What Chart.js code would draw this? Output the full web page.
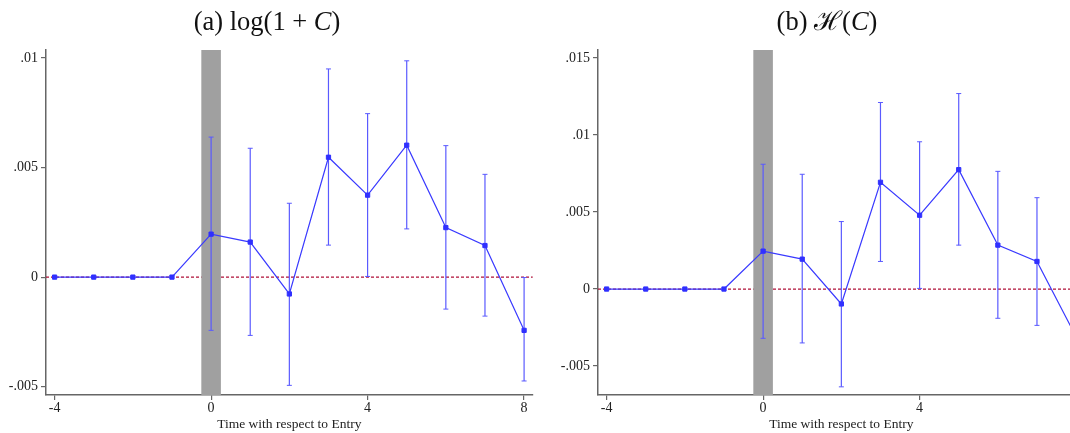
<!DOCTYPE html>
<html>
<head>
<meta charset="utf-8">
<script src="https://cdn.jsdelivr.net/npm/chart.js@4.4.1/dist/chart.umd.min.js"></script>
<style>
  html, body { margin: 0; padding: 0; background: #fff; overflow: hidden; }
  #wrap { position: relative; width: 1070px; height: 433px; overflow: hidden; }
  .panel { position: absolute; top: 0; width: 552px; height: 433px; }
</style>
</head>
<body>
<div id="wrap">
  <div class="panel" style="left:0"><canvas id="chartA" width="552" height="433"></canvas></div>
  <div class="panel" style="left:552px"><canvas id="chartB" width="552" height="433"></canvas></div>
</div>
<script>
// event time
const times = [-4, -3, -2, -1, 0, 1, 2, 3, 4, 5, 6, 7, 8];

// panel (a) log(1 + C)
const coefA   = [0, 0, 0, 0, 0.00196, 0.0016, -0.00077, 0.00547, 0.00374, 0.00602, 0.00226, 0.00144, -0.00243];
const ciLowA  = [null, null, null, null, -0.00243, -0.00266, -0.00494, 0.00146, 0.00003, 0.0022, -0.00146, -0.00178, -0.00474];
const ciHighA = [null, null, null, null, 0.00639, 0.00588, 0.00337, 0.0095, 0.00746, 0.00987, 0.006, 0.00469, -0.00002];

// panel (b) H(C)
const coefB   = [0, 0, 0, 0, 0.00246, 0.00194, -0.00097, 0.00693, 0.00479, 0.00775, 0.00285, 0.00179, -0.0031];
const ciLowB  = [null, null, null, null, -0.0032, -0.0035, -0.00635, 0.00179, 0.00004, 0.00285, -0.0019, -0.00236, -0.0079];
const ciHighB = [null, null, null, null, 0.0081, 0.00745, 0.00438, 0.01211, 0.00956, 0.01269, 0.00764, 0.00593, 0.0017];

// axes
const xTicks = [-4, 0, 4, 8];
const xRange = [-4.22, 8.22];
const yTicksA = [-0.005, 0, 0.005, 0.01];
const yLabelsA = ['-.005', '0', '.005', '.01'];
const yRangeA = [-0.00538, 0.010364];
const yTicksB = [-0.005, 0, 0.005, 0.01, 0.015];
const yLabelsB = ['-.005', '0', '.005', '.01', '.015'];
const yRangeB = [-0.00688, 0.015518];

const shadeSpan = [-0.25, 0.25];
const refLine = 0;
const xTitle = 'Time with respect to Entry';
const titleA = [['(a) log(1 + ', 'normal'], ['C', 'italic'], [')', 'normal']];
const titleB = [['(b) ', 'normal'], ['\u210B', 'normal'], ['(', 'normal'], ['C', 'italic'], [')', 'normal']];

const SERIF = "'Liberation Serif', 'Times New Roman', serif";
const AXIS = '#666';

// shaded entry period and zero line, under the data
const refPlugin = {
  id: 'refs',
  beforeDatasetsDraw(chart) {
    const { ctx, chartArea: a, scales: { x, y } } = chart;
    ctx.save();
    const y0 = y.getPixelForValue(refLine);
    ctx.strokeStyle = '#b01038';
    ctx.lineWidth = 1.2;
    ctx.setLineDash([3, 2]);
    ctx.beginPath();
    ctx.moveTo(a.left, y0);
    ctx.lineTo(a.right, y0);
    ctx.stroke();
    const x0 = x.getPixelForValue(shadeSpan[0]);
    const x1 = x.getPixelForValue(shadeSpan[1]);
    ctx.fillStyle = '#a0a0a0';
    ctx.fillRect(x0, a.top, x1 - x0, a.bottom - a.top);
    ctx.restore();
  }
};

// title with mixed upright / italic pieces
const titlePlugin = {
  id: 'mixTitle',
  afterDraw(chart, args, opts) {
    const ctx = chart.ctx;
    ctx.save();
    ctx.fillStyle = '#111';
    ctx.textBaseline = 'alphabetic';
    const font = style => style + ' 26.5px ' + SERIF;
    let total = 0;
    opts.parts.forEach(p => { ctx.font = font(p[1]); total += ctx.measureText(p[0]).width; });
    let xPos = opts.center - total / 2;
    opts.parts.forEach(p => {
      ctx.font = font(p[1]);
      ctx.fillText(p[0], xPos, 29.5);
      xPos += ctx.measureText(p[0]).width;
    });
    ctx.restore();
  }
};

function makeChart(id, coef, lo, hi, yTicks, yLabels, yRange, title, titleCenter) {
  const whiskers = [];
  const caps = [];
  times.forEach((t, i) => {
    if (lo[i] === null) return;
    whiskers.push({ x: t, y: lo[i] }, { x: t, y: hi[i] }, { x: t, y: null });
    caps.push({ x: t, y: lo[i] }, { x: t, y: hi[i] });
  });

  return new Chart(document.getElementById(id), {
    type: 'line',
    data: {
      datasets: [
        {
          label: 'coef',
          data: times.map((t, i) => ({ x: t, y: coef[i] })),
          borderColor: '#3a3aff',
          borderWidth: 1.2,
          pointStyle: 'rect',
          pointRadius: 3,
          pointBorderWidth: 1,
          pointBackgroundColor: '#3030ff',
          pointBorderColor: '#3030ff',
          tension: 0
        },
        {
          label: 'caps',
          data: caps,
          showLine: false,
          pointStyle: 'line',
          pointRadius: 2.5,
          pointBorderWidth: 1,
          pointBorderColor: '#5a5aff'
        },
        {
          label: 'ci',
          data: whiskers,
          borderColor: '#5a5aff',
          borderWidth: 1.2,
          pointRadius: 0,
          spanGaps: false
        }
      ]
    },
    options: {
      responsive: false,
      animation: false,
      layout: { padding: { top: 50, right: 19.3, left: 0, bottom: 0 } },
      plugins: {
        legend: { display: false },
        tooltip: { enabled: false },
        mixTitle: { parts: title, center: titleCenter }
      },
      scales: {
        x: {
          type: 'linear',
          min: xRange[0],
          max: xRange[1],
          afterBuildTicks: s => { s.ticks = xTicks.map(v => ({ value: v })); },
          ticks: {
            callback: v => String(v),
            font: { family: SERIF, size: 14 },
            color: '#222',
            padding: 0,
            maxRotation: 0
          },
          grid: { drawOnChartArea: false, drawTicks: true, tickLength: 5, color: AXIS, lineWidth: 1.2 },
          border: { display: true, color: AXIS, width: 1.5 },
          title: {
            display: true,
            text: xTitle,
            font: { family: SERIF, size: 13.5 },
            color: '#222',
            padding: { top: 0, bottom: 0 }
          }
        },
        y: {
          min: yRange[0],
          max: yRange[1],
          afterBuildTicks: s => { s.ticks = yTicks.map(v => ({ value: v })); },
          afterFit: s => { s.width = 46; },
          ticks: {
            callback: (v) => yLabels[yTicks.indexOf(v)],
            font: { family: SERIF, size: 14 },
            color: '#222',
            padding: 3
          },
          grid: { drawOnChartArea: false, drawTicks: true, tickLength: 5, color: AXIS, lineWidth: 1.2 },
          border: { display: true, color: AXIS, width: 1.5 }
        }
      }
    },
    plugins: [refPlugin, titlePlugin]
  });
}

makeChart('chartA', coefA, ciLowA, ciHighA, yTicksA, yLabelsA, yRangeA, titleA, 267);
makeChart('chartB', coefB, ciLowB, ciHighB, yTicksB, yLabelsB, yRangeB, titleB, 275);
</script>
</body>
</html>
